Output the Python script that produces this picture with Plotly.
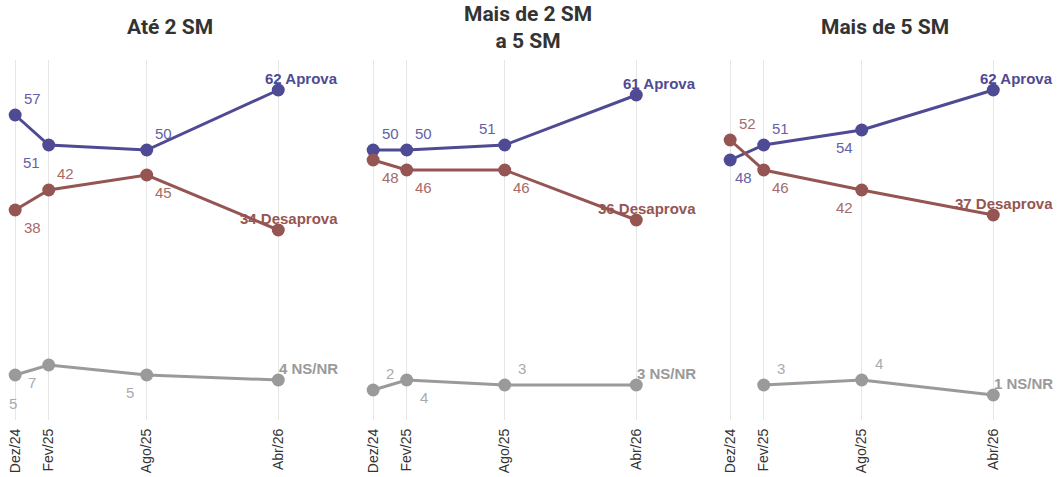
import plotly.graph_objects as go

# data
dates = ["2024-12-01", "2025-02-01", "2025-08-01", "2026-04-01"]
tick_labels = ["Dez/24", "Fev/25", "Ago/25", "Abr/26"]
panels = ["Até 2 SM", "Mais de 2 SM<br>a 5 SM", "Mais de 5 SM"]

aprova_ate2 = [57, 51, 50, 62]
desaprova_ate2 = [38, 42, 45, 34]
nsnr_ate2 = [5, 7, 5, 4]

aprova_2a5 = [50, 50, 51, 61]
desaprova_2a5 = [48, 46, 46, 36]
nsnr_2a5 = [2, 4, 3, 3]

aprova_mais5 = [48, 51, 54, 62]
desaprova_mais5 = [52, 46, 42, 37]
nsnr_mais5 = [None, 3, 4, 1]

series_names = ["Aprova", "Desaprova", "NS/NR"]
line_colors = {"Aprova": "#4f4a94", "Desaprova": "#955552", "NS/NR": "#9a9a9a"}
label_colors = {"Aprova": "#6561a6", "Desaprova": "#a56c6a", "NS/NR": "#aaaaaa"}

# label offsets (dx, dy) in px for the first three points of each line
S = 17
offsets = {
    0: {"Aprova": [(S, S), (-S, -S), (S, S)],
        "Desaprova": [(S, -S), (S, S), (S, -S)],
        "NS/NR": [(-2, -28), (-S, -S), (-S, -S)]},
    1: {"Aprova": [(S, S), (S, S), (-S, S)],
        "Desaprova": [(S, -S), (S, -S), (S, -S)],
        "NS/NR": [(S, S), (S, -S), (S, S)]},
    2: {"Aprova": [(13, -S), (S, S), (-S, -S)],
        "Desaprova": [(S, S), (S, -S), (-S, -S)],
        "NS/NR": [(S, S), (S, S), (S, S)]},
}

data = [
    {"Aprova": aprova_ate2, "Desaprova": desaprova_ate2, "NS/NR": nsnr_ate2},
    {"Aprova": aprova_2a5, "Desaprova": desaprova_2a5, "NS/NR": nsnr_2a5},
    {"Aprova": aprova_mais5, "Desaprova": desaprova_mais5, "NS/NR": nsnr_mais5},
]

W = 1057
domains = [(0 / W, 340 / W), (358 / W, 698 / W), (715 / W, 1055 / W)]

fig = go.Figure()
annotations = []
for p, panel in enumerate(data):
    xa = "x" if p == 0 else f"x{p + 1}"
    ya = "y" if p == 0 else f"y{p + 1}"
    for name in series_names:
        vals = panel[name]
        fig.add_trace(go.Scatter(
            x=dates, y=vals, xaxis=xa, yaxis=ya, mode="lines+markers",
            line=dict(color=line_colors[name], width=3),
            marker=dict(color=line_colors[name], size=13),
            showlegend=False, hoverinfo="x+y",
        ))
        for i in range(3):
            if vals[i] is None:
                continue
            dx, dy = offsets[p][name][i]
            annotations.append(dict(
                x=dates[i], y=vals[i], xref=xa, yref=ya, text=str(vals[i]),
                showarrow=False, xshift=dx, yshift=dy,
                font=dict(family="Liberation Sans", size=15, color=label_colors[name]),
            ))
        annotations.append(dict(
            x=1, y=vals[3], xref=f"{xa} domain", yref=ya,
            text=f"<b>{vals[3]} {name}</b>", showarrow=False,
            xanchor="right", yshift=12,
            font=dict(family="Liberation Sans", size=15, color=line_colors[name]),
        ))
    annotations.append(dict(
        x=(domains[p][0] + domains[p][1]) / 2, y=1 + 33 / 360, xref="paper", yref="paper",
        text=f"<b>{panels[p]}</b>", showarrow=False, xanchor="center", yanchor="middle",
        font=dict(family="Roboto", size=21, color="#333333"),
    ))

layout = dict(
    width=1057, height=477,
    margin=dict(l=0, r=0, t=60, b=57),
    paper_bgcolor="white", plot_bgcolor="white",
    annotations=annotations,
)
for p in range(3):
    key = "" if p == 0 else str(p + 1)
    layout[f"xaxis{key}"] = dict(
        domain=list(domains[p]), type="date",
        range=["2024-11-03", "2026-07-24"], autorange=False,
        tickvals=dates, ticktext=tick_labels, tickangle=-90,
        showgrid=True, gridcolor="#e6e6e6", gridwidth=1,
        zeroline=False, showline=False, ticks="", ticklabelstandoff=5,
        tickfont=dict(family="Liberation Sans", size=14, color="#333333"),
        anchor="y" if p == 0 else f"y{p + 1}",
    )
    layout[f"yaxis{key}"] = dict(
        range=[-4, 68], autorange=False, visible=False, showgrid=False, zeroline=False,
        anchor="x" if p == 0 else f"x{p + 1}",
    )

fig.update_layout(**layout)
fig.write_html("out.html", config={"displayModeBar": False},
               post_script="document.body.style.margin='0';")
